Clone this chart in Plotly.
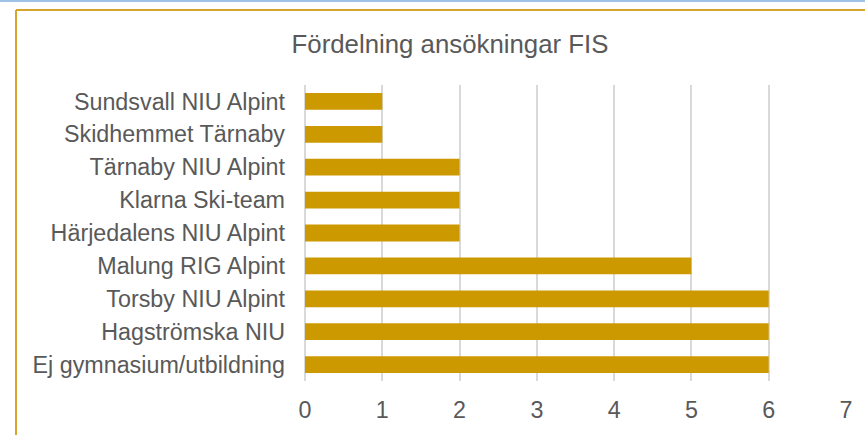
import plotly.graph_objects as go

categories = [
    "Sundsvall NIU Alpint",
    "Skidhemmet Tärnaby",
    "Tärnaby NIU Alpint",
    "Klarna Ski-team",
    "Härjedalens NIU Alpint",
    "Malung RIG Alpint",
    "Torsby NIU Alpint",
    "Hagströmska NIU",
    "Ej gymnasium/utbildning",
]
values = [1, 1, 2, 2, 2, 5, 6, 6, 6]
title_text = "Fördelning ansökningar FIS"
x_ticks = [0, 1, 2, 3, 4, 5, 6, 7]

W, H = 865, 435
ML, MR, MT, MB = 305, 19, 85, 52
pw = W - ML - MR
ph = H - MT - MB


def px_x(p):
    return (p - ML) / pw


def px_y(p):
    return (H - MB - p) / ph


fig = go.Figure(
    go.Bar(
        x=values,
        y=categories,
        orientation="h",
        marker=dict(color="#CC9900", line=dict(width=0)),
    )
)

fig.update_layout(
    width=W,
    height=H,
    margin=dict(l=ML, r=MR, t=MT, b=MB),
    paper_bgcolor="white",
    plot_bgcolor="white",
    bargap=0.49,
    showlegend=False,
    font=dict(family="Liberation Sans, Arial, sans-serif", color="#595959", size=23.3),
    title=dict(
        text=title_text,
        x=450 / W,
        xanchor="center",
        y=1 - 44 / H,
        yanchor="middle",
        font=dict(size=25.8, color="#595959"),
    ),
    xaxis=dict(
        range=[0, 7],
        tickvals=x_ticks,
        showgrid=True,
        gridcolor="#D9D9D9",
        gridwidth=1.7,
        zeroline=True,
        zerolinecolor="#D9D9D9",
        zerolinewidth=1.7,
        showline=False,
        ticks="",
        ticklabelstandoff=13,
        tickfont=dict(size=23.3, color="#595959"),
        fixedrange=True,
    ),
    yaxis=dict(
        autorange="reversed",
        showgrid=False,
        showline=False,
        ticks="",
        ticklabelstandoff=19,
        tickfont=dict(size=23.3, color="#595959"),
        fixedrange=True,
    ),
    shapes=[
        dict(
            type="line", xref="paper", yref="paper",
            x0=px_x(-5), x1=px_x(W + 5), y0=px_y(0.5), y1=px_y(0.5),
            line=dict(color="#9DC3E6", width=2),
        ),
        dict(
            type="line", xref="paper", yref="paper",
            x0=px_x(16), x1=px_x(W + 5), y0=px_y(9.5), y1=px_y(9.5),
            line=dict(color="#D4A52A", width=2),
        ),
        dict(
            type="line", xref="paper", yref="paper",
            x0=px_x(16), x1=px_x(16), y0=px_y(9.5), y1=px_y(H + 5),
            line=dict(color="#D4A52A", width=2),
        ),
    ],
)

fig.write_html(
    "out.html",
    config={"displayModeBar": False},
    post_script="document.body.style.margin='0';document.body.style.overflow='hidden';",
)
